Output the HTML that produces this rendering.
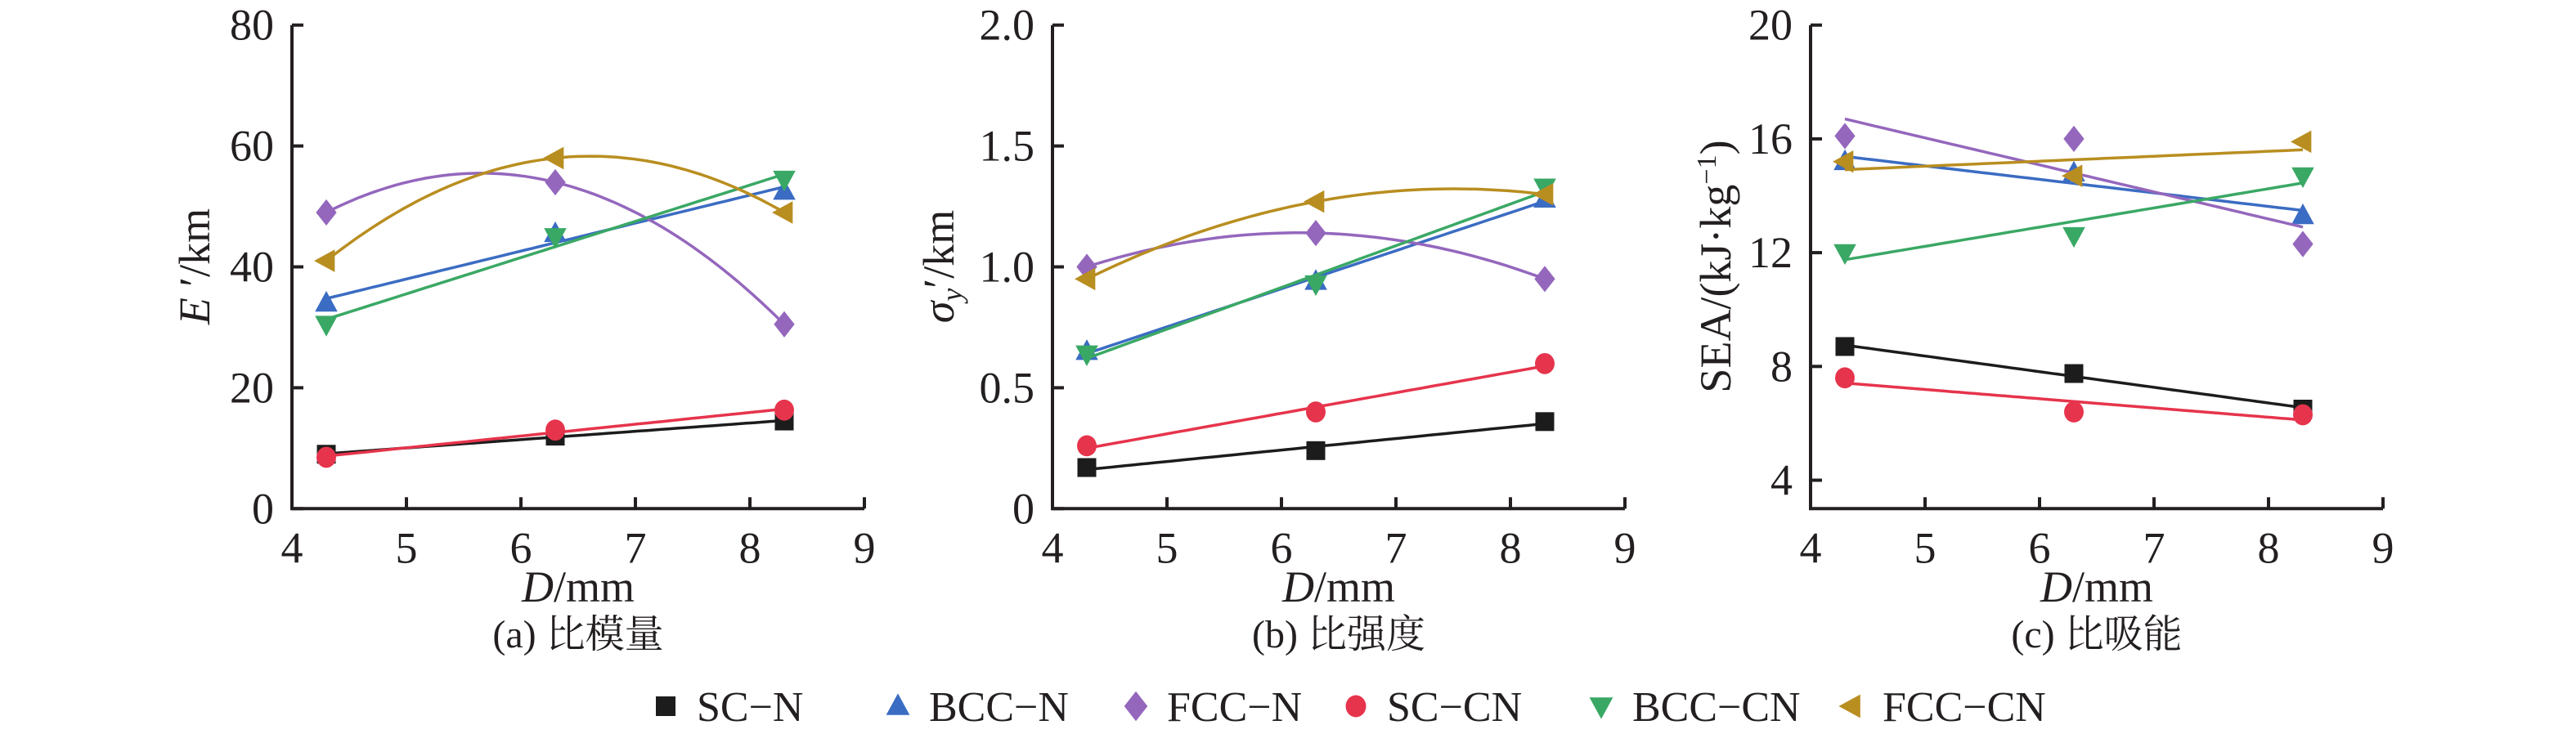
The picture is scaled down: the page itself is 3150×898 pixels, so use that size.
<!DOCTYPE html>
<html><head><meta charset="utf-8"><style>
html,body{margin:0;padding:0;background:#fff;}
svg{display:block;}
text{font-family:"Liberation Serif","Noto Serif CJK SC","Noto Sans CJK SC",serif;fill:#231f20;}
</style></head><body>
<svg id="fig" width="3150" height="898" viewBox="0 0 3150 898" xmlns="http://www.w3.org/2000/svg"></svg>
<script>
const xValues = [4.3, 6.3, 8.3];
const seriesNames = ["SC-N","BCC-N","FCC-N","SC-CN","BCC-CN","FCC-CN"];
// panel a: specific modulus
const aSCN = [9, 12, 14.5];
const aBCCN = [34, 45.5, 52.5];
const aFCCN = [49, 54, 30.5];
const aSCCN = [8.5, 13, 16.3];
const aBCCCN = [30.5, 45, 54.5];
const aFCCCN = [41, 58, 49];
// panel b: specific strength
const bSCN = [0.17, 0.24, 0.36];
const bBCCN = [0.65, 0.94, 1.28];
const bFCCN = [1.0, 1.14, 0.95];
const bSCCN = [0.26, 0.40, 0.60];
const bBCCCN = [0.64, 0.93, 1.33];
const bFCCCN = [0.95, 1.27, 1.30];
// panel c: SEA
const cSCN = [8.7, 7.75, 6.5];
const cBCCN = [15.2, 14.8, 13.3];
const cFCCN = [16.1, 16.0, 12.3];
const cSCCN = [7.6, 6.4, 6.3];
const cBCCCN = [12.0, 12.6, 14.7];
const cFCCCN = [15.2, 14.7, 15.9];
const xTicks = [4,5,6,7,8,9];
const aTicks = [0,20,40,60,80];
const bTicks = ["0","0.5","1.0","1.5","2.0"];
const cTicks = [4,8,12,16,20];

const NS="http://www.w3.org/2000/svg";
const svg=document.getElementById('fig');
function mk(tag,attrs,parent){const e=document.createElementNS(NS,tag);for(const k in attrs)e.setAttribute(k,attrs[k]);(parent||svg).appendChild(e);return e;}
const colors=["#1c1c1c","#3b6cc3","#9467bd","#e6344c","#3aa865","#b98e20"];
const shapes=["square","up","diamond","circle","down","left"];

function marker(g,shape,cx,cy,col,s){
  let e;
  if(shape==="square") e=mk('rect',{x:cx-s*0.5,y:cy-s*0.5,width:s,height:s,fill:col},g);
  else if(shape==="circle") e=mk('ellipse',{cx:cx,cy:cy,rx:s*0.52,ry:s*0.56,fill:col},g);
  else if(shape==="diamond") e=mk('polygon',{points:`${cx},${cy-s*0.7} ${cx+s*0.55},${cy} ${cx},${cy+s*0.7} ${cx-s*0.55},${cy}`,fill:col},g);
  else if(shape==="up") e=mk('polygon',{points:`${cx},${cy-s*0.65} ${cx+s*0.6},${cy+s*0.45} ${cx-s*0.6},${cy+s*0.45}`,fill:col},g);
  else if(shape==="down") e=mk('polygon',{points:`${cx},${cy+s*0.65} ${cx+s*0.6},${cy-s*0.45} ${cx-s*0.6},${cy-s*0.45}`,fill:col},g);
  else if(shape==="left") e=mk('polygon',{points:`${cx-s*0.65},${cy} ${cx+s*0.45},${cy-s*0.6} ${cx+s*0.45},${cy+s*0.6}`,fill:col},g);
  return e;
}
function linFit(xs,ys){const n=xs.length;const mx=xs.reduce((a,b)=>a+b)/n,my=ys.reduce((a,b)=>a+b)/n;let sxy=0,sxx=0;for(let i=0;i<n;i++){sxy+=(xs[i]-mx)*(ys[i]-my);sxx+=(xs[i]-mx)**2;}const m=sxy/sxx;return x=>my+m*(x-mx);}
function quadFit(xs,ys){return x=>{let s=0;for(let i=0;i<3;i++){let t=ys[i];for(let j=0;j<3;j++)if(j!==i)t*=(x-xs[j])/(xs[i]-xs[j]);s+=t;}return s;};}

function panel(opt){
  const g=mk('g',{});
  
  
  const X0=opt.x0,X1=opt.x0+700,Ytop=30.7,Ybot=622.3;
  const sx=v=>X0+(v-4)/5*700;
  const sy=v=>Ybot-(v-opt.ymin)/(opt.ymax-opt.ymin)*(Ybot-Ytop);
  for(let k=0;k<6;k++){
    const ys=opt.data[k];
    const f=opt.fits[k]==="q"?quadFit(xValues,ys):linFit(xValues,ys);
    let d="";
    for(let i=0;i<=60;i++){const xv=xValues[0]+(xValues[2]-xValues[0])*i/60;d+=(i?"L":"M")+sx(xv).toFixed(1)+","+sy(f(xv)).toFixed(1);}
    const p=mk('path',{d:d,fill:"none",stroke:colors[k],"stroke-width":3.5},g);
    
    
    for(let i=0;i<3;i++){
      const m=marker(g,shapes[k],sx(xValues[i]),sy(ys[i]),colors[k],23);
      
      
    }
  }
  const ax=mk('path',{d:`M${X0},${Ytop}L${X0},${Ybot}L${X1},${Ybot}`,fill:"none",stroke:"#231f20","stroke-width":4},g);
  
  
  for(const t of xTicks){
    const x=sx(t);
    mk('line',{x1:x,y1:Ybot,x2:x,y2:Ybot-14,stroke:"#231f20","stroke-width":4},g);
    const tx=mk('text',{x:x,y:Ybot+66,"font-size":54,"text-anchor":"middle"},g);
    tx.textContent=t;
    
    
  }
  opt.ticks.forEach((t,i)=>{
    const y=sy(opt.tickVals[i]);
    mk('line',{x1:X0,y1:y,x2:X0+14,y2:y,stroke:"#231f20","stroke-width":4},g);
    const tx=mk('text',{x:X0-22,y:y+18,"font-size":54,"text-anchor":"end"},g);
    tx.textContent=t;
    
    
  });
  const xt=mk('text',{x:X0+350,y:736,"font-size":54,"text-anchor":"middle"},g);
  xt.innerHTML='<tspan font-style="italic">D</tspan>/mm';
  
  
  const cap=mk('text',{x:X0+350,y:792,"font-size":48,"text-anchor":"middle"},g);
  cap.textContent=opt.caption;
  
  
  const yt=mk('text',{x:0,y:0,"font-size":54,"text-anchor":"middle",transform:`translate(${opt.ytx},326) rotate(-90)`},g);
  yt.innerHTML=opt.ytitle;
  
  
}
panel({name:'panel-a',x0:357,ymin:0,ymax:80,data:[aSCN,aBCCN,aFCCN,aSCCN,aBCCCN,aFCCCN],fits:["l","l","q","l","l","q"],
  ticks:aTicks.map(String),tickVals:aTicks,caption:"(a) 比模量",ytx:256,
  ytitle:'<tspan font-style="italic">E</tspan> ′/km'});
panel({name:'panel-b',x0:1287,ymin:0,ymax:2,data:[bSCN,bBCCN,bFCCN,bSCCN,bBCCCN,bFCCCN],fits:["l","l","q","l","l","q"],
  ticks:bTicks,tickVals:[0,0.5,1,1.5,2],caption:"(b) 比强度",ytx:1166,
  ytitle:'<tspan font-style="italic">σ</tspan><tspan font-style="italic" font-size="36" dy="10">y</tspan><tspan dy="-10">′/km</tspan>'});
panel({name:'panel-c',x0:2214,ymin:3,ymax:20,data:[cSCN,cBCCN,cFCCN,cSCCN,cBCCCN,cFCCCN],fits:["l","l","l","l","l","l"],
  ticks:cTicks.map(String),tickVals:cTicks,caption:"(c) 比吸能",ytx:2116,
  ytitle:'SEA/(kJ·kg<tspan font-size="34" dy="-18">−1</tspan><tspan dy="18">)</tspan>'});

const legMarkerX=[814,1098,1389,1658,1958,2264];
const leg=mk('g',{});


for(let k=0;k<6;k++){
  const m=marker(leg,shapes[k],legMarkerX[k],864,colors[k],k===2?26:24);
  
  
  const t=mk('text',{x:legMarkerX[k]+38,y:882,"font-size":52},leg);
  t.textContent=seriesNames[k].replace('-','−');
  
  
}
</script>
</body></html>
